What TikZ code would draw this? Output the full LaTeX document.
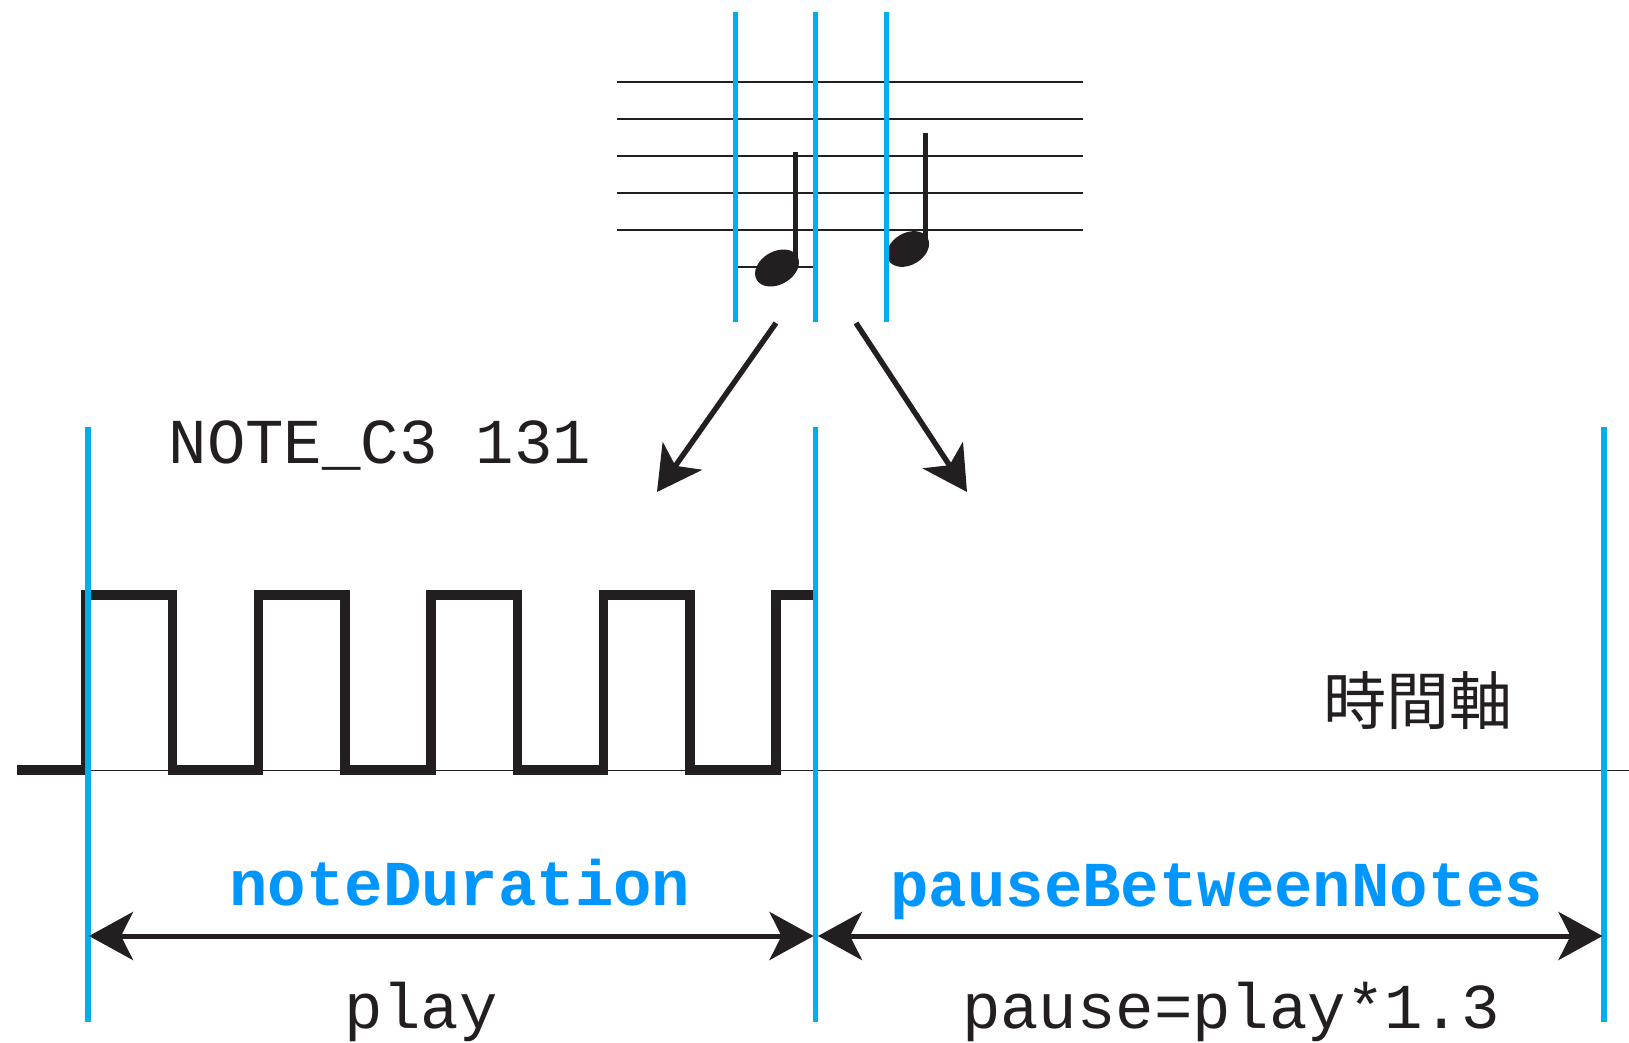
\documentclass[tikz,border=0pt]{standalone}
\usepackage{fontspec}
\setmonofont{Liberation Mono}
\newfontfamily\cjkfont{Noto Sans CJK JP}
\usetikzlibrary{arrows.meta}
\definecolor{ink}{HTML}{231F20}
\definecolor{guide}{HTML}{00AEEF}
\definecolor{param}{HTML}{0096FF}
\tikzset{
  guideline/.style={draw=guide, line width=2.6pt},
  staffline/.style={draw=ink, line width=1.3pt},
  ledger/.style={draw=ink, line width=0.9pt},
  stem/.style={draw=ink, line width=2.7pt},
  wave/.style={draw=ink, line width=4.7pt, line join=miter},
  timeaxis/.style={draw=ink, line width=0.6pt},
  bigtip/.tip={Stealth[length=22pt, width=24pt, inset=6pt]},
  flow/.style={draw=ink, line width=2.7pt, -bigtip},
  span/.style={draw=ink, line width=2.5pt, bigtip-bigtip},
  codetext/.style={font=\ttfamily\fontsize{32}{36}\selectfont, text=ink, inner sep=0pt, anchor=base},
  paramtext/.style={font=\ttfamily\bfseries\fontsize{32}{36}\selectfont, text=param, inner sep=0pt, anchor=base},
  axistext/.style={font=\cjkfont\fontsize{31.5}{36}\selectfont, text=ink, inner sep=0pt}
}
\begin{document}
\begin{tikzpicture}[x=0.5pt, y=-0.5pt]
\useasboundingbox (0,0) rectangle (1629,1043);

% staff
\foreach \yy in {82,119,156,193,230}
  \draw[staffline] (617,\yy) -- (1083,\yy);
\draw[ledger] (738,267) -- (813,267);

% notes
\fill[ink, rotate around={30:(777,268)}] (777,268) ellipse [x radius=23.5, y radius=16.5];
\draw[stem] (795.5,152) -- (795.5,264);
\fill[ink, rotate around={30:(908,249)}] (908,249) ellipse [x radius=22.5, y radius=16];
\draw[stem] (925.5,133) -- (925.5,245);

% note boundaries
\draw[guideline] (735.7,12) -- (735.7,322);
\draw[guideline] (815.7,12) -- (815.7,322);
\draw[guideline] (886.7,12) -- (886.7,322);

% arrows from the notes down to the waveform
\coordinate (noteA) at (776,323);
\coordinate (playA) at (657,492);
\coordinate (noteB) at (856,323);
\coordinate (pauseB) at (967,492);
\draw[flow] (noteA) -- (playA);
\draw[flow] (noteB) -- (pauseB);

\node[codetext] (notename) at (380,464) {NOTE\_C3 131};

% time axis and square wave
\draw[timeaxis] (17,770.5) -- (1629,770.5);
\draw[wave] (17,770) -- (86,770) -- (86,595) -- (172.5,595) -- (172.5,770)
  -- (258.5,770) -- (258.5,595) -- (345,595) -- (345,770)
  -- (431,770) -- (431,595) -- (517.5,595) -- (517.5,770)
  -- (603.5,770) -- (603.5,595) -- (690,595) -- (690,770)
  -- (776,770) -- (776,595) -- (815,595);

\node[axistext] (axis) at (1418,701) {時間軸};

% interval boundaries
\draw[guideline] (88,427) -- (88,1022);
\draw[guideline] (815.7,427) -- (815.7,1022);
\draw[guideline] (1604,427) -- (1604,1022);

% interval spans
\coordinate (playL) at (89,936);
\coordinate (playR) at (813.5,936);
\coordinate (pauseL) at (818,936);
\coordinate (pauseR) at (1602.5,936);
\draw[span] (playL) -- (playR);
\draw[span] (pauseL) -- (pauseR);

\node[paramtext] (dur) at (460,905) {noteDuration};
\node[paramtext] (gap) at (1217,906) {pauseBetweenNotes};
\node[codetext] (play) at (421,1028) {play};
\node[codetext] (pause) at (1231,1028) {pause=play*1.3};
\end{tikzpicture}
\end{document}
